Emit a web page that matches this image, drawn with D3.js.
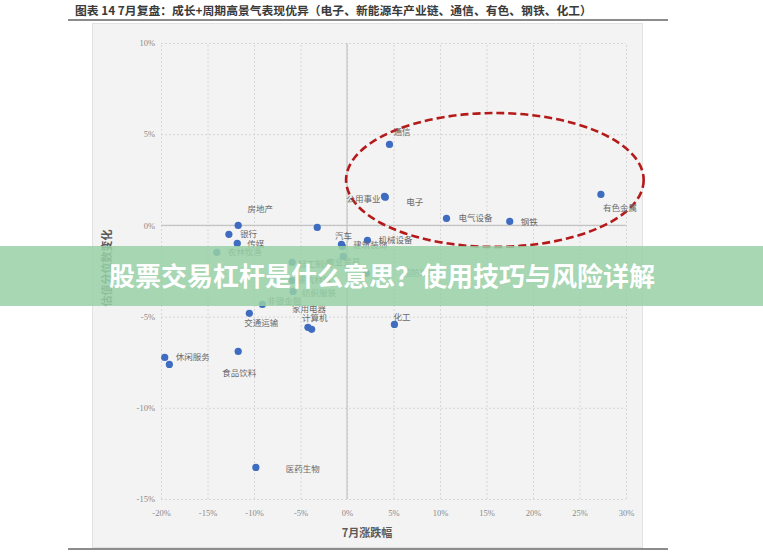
<!DOCTYPE html>
<html>

<head>
    <meta charset="UTF-8">
    <title>7月复盘</title>
    <script src="https://d3js.org/d3.v7.min.js"></script>
    <style>
        body {
            margin: 0;
            background-color: #ffffff;
        }
        svg {
            display: block;
        }
    </style>
</head>

<body>
    <div id="chart"></div>
    <script>
        // data: July change (%) vs change in valuation percentile (%)
        var sectors = ['通信', '公用事业', '电子', '电气设备', '钢铁', '有色金属', '房地产', '银行', '传媒', '农林牧渔',
            '采掘', '汽车', '建筑装饰', '机械设备', '商业贸易', '轻工制造', '国防军工', '建筑材料', '纺织服装', '非银金融',
            '交通运输', '家用电器', '计算机', '化工', '休闲服务', '综合', '食品饮料', '医药生物'];
        var julyChange = [4.57, 4.03, 4.12, 10.7, 17.5, 27.3, -11.7, -12.7, -11.8, -14.0,
            -3.2, -0.6, -0.5, 2.2, -0.4, -5.9, 2.1, -5.9, -5.8, -9.1,
            -10.5, -4.2, -3.8, 5.1, -19.6, -19.1, -11.7, -9.8];
        var valuationChange = [4.44, 1.59, 1.55, 0.38, 0.22, 1.70, 0.0, -0.49, -0.99, -1.48,
            -0.11, -1.04, -1.15, -0.82, -1.70, -2.03, -2.63, -3.02, -3.62, -4.33,
            -4.82, -5.59, -5.70, -5.43, -7.24, -7.62, -6.91, -13.27];
        var xTicks = [-20, -15, -10, -5, 0, 5, 10, 15, 20, 25, 30];
        var yTicks = [-15, -10, -5, 0, 5, 10];

        var title = '图表 14 7月复盘：成长+周期高景气表现优异（电子、新能源车产业链、通信、有色、钢铁、化工）';
        var xTitle = '7月涨跌幅';
        var yTitle = '估值分位数变化';
        var banner = '股票交易杠杆是什么意思？使用技巧与风险详解';

        // where each label sits next to its dot: dx, dy, anchor
        var labelPos = {
            '通信': [4, -12, 'start'], '公用事业': [-4, 3, 'end'], '电子': [21, 5, 'start'],
            '电气设备': [12, 0, 'start'], '钢铁': [11, 1, 'start'], '有色金属': [2, 14, 'start'],
            '房地产': [22, -16, 'middle'], '银行': [11, 0, 'start'], '传媒': [10, 1, 'start'],
            '农林牧渔': [11, 0, 'start'], '汽车': [2, -8, 'middle'], '建筑装饰': [11, -1, 'start'],
            '机械设备': [11, 0, 'start'], '商业贸易': [-17, 6, 'start'], '轻工制造': [6, 2, 'start'],
            '国防军工': [36, 0, 'start'], '建筑材料': [5, 0, 'start'], '纺织服装': [9, 2, 'start'],
            '非银金融': [5, -3, 'start'], '交通运输': [-5, 10, 'start'], '家用电器': [1, -18, 'middle'],
            '计算机': [3, -11, 'middle'], '化工': [-1, -7, 'start'], '休闲服务': [11, 0, 'start'],
            '食品饮料': [1, 22, 'middle'], '医药生物': [30, 2, 'start']
        };

        var width = 763;
        var height = 552;
        var plot = { left: 161, right: 626, top: 43, bottom: 499 };

        var svg = d3.select('#chart')
            .append('svg')
            .attr('width', width)
            .attr('height', height);

        // panel and frame lines
        svg.append('rect')
            .attr('x', 92.5).attr('y', 23.5)
            .attr('width', 550).attr('height', 524)
            .attr('fill', '#f3f3f3')
            .attr('stroke', '#e2e2e2');

        svg.append('line')
            .attr('x1', 68).attr('x2', 668).attr('y1', 20).attr('y2', 20)
            .attr('stroke', '#8c8c8c').attr('stroke-width', 2);
        svg.append('line')
            .attr('x1', 68).attr('x2', 668).attr('y1', 549).attr('y2', 549)
            .attr('stroke', '#8c8c8c').attr('stroke-width', 2);

        svg.append('text')
            .attr('x', 75).attr('y', 15)
            .attr('font-family', '"Noto Sans CJK SC", sans-serif')
            .attr('font-size', 11.8)
            .attr('font-weight', 'bold')
            .attr('fill', '#3a3a3a')
            .text(title);

        var x = d3.scaleLinear().domain([-20, 30]).range([plot.left, plot.right]);
        var y = d3.scaleLinear().domain([-15, 10]).range([plot.bottom, plot.top]);

        // grid
        var gridX = svg.append('g')
            .attr('transform', 'translate(0,' + plot.bottom + ')')
            .call(d3.axisBottom(x).tickValues(xTicks).tickSize(-(plot.bottom - plot.top)).tickFormat(''));
        var gridY = svg.append('g')
            .attr('transform', 'translate(' + plot.left + ',0)')
            .call(d3.axisLeft(y).tickValues(yTicks).tickSize(-(plot.right - plot.left)).tickFormat(''));
        [gridX, gridY].forEach(function(g) {
            g.select('.domain').remove();
            g.selectAll('line')
                .attr('stroke', '#d6d6d6')
                .attr('stroke-dasharray', '2,2');
        });

        // zero lines
        svg.append('line')
            .attr('x1', x(0)).attr('x2', x(0))
            .attr('y1', plot.top).attr('y2', plot.bottom)
            .attr('stroke', '#c4c4c4').attr('stroke-width', 1.2);
        svg.append('line')
            .attr('x1', plot.left).attr('x2', plot.right)
            .attr('y1', y(0)).attr('y2', y(0))
            .attr('stroke', '#c4c4c4').attr('stroke-width', 1.2);

        // tick labels
        var xAxis = svg.append('g')
            .attr('transform', 'translate(0,' + (plot.bottom + 8) + ')')
            .call(d3.axisBottom(x).tickValues(xTicks).tickSize(0).tickFormat(function(d) { return d + '%'; }));
        var yAxis = svg.append('g')
            .attr('transform', 'translate(' + (plot.left - 6) + ',0)')
            .call(d3.axisLeft(y).tickValues(yTicks).tickSize(0).tickFormat(function(d) { return d + '%'; }));
        [xAxis, yAxis].forEach(function(g) {
            g.select('.domain').remove();
            g.selectAll('text')
                .attr('font-family', '"Liberation Serif", serif')
                .attr('font-size', 8.5)
                .attr('fill', '#8a8a8a');
        });
        yAxis.selectAll('text').attr('x', 0);

        // axis titles
        svg.append('text')
            .attr('x', 367).attr('y', 537)
            .attr('text-anchor', 'middle')
            .attr('font-family', '"Noto Sans CJK SC", sans-serif')
            .attr('font-size', 11)
            .attr('font-weight', 'bold')
            .attr('fill', '#595959')
            .text(xTitle);
        svg.append('text')
            .attr('transform', 'translate(111,268) rotate(-90)')
            .attr('text-anchor', 'middle')
            .attr('font-family', '"Noto Sans CJK SC", sans-serif')
            .attr('font-size', 11)
            .attr('font-weight', 'bold')
            .attr('fill', '#595959')
            .text(yTitle);

        // highlight ellipse
        svg.append('ellipse')
            .attr('cx', x(15.9)).attr('cy', y(2.49))
            .attr('rx', x(16.0) - x(0)).attr('ry', y(0) - y(3.67))
            .attr('fill', 'none')
            .attr('stroke', '#b51a1a')
            .attr('stroke-width', 2.6)
            .attr('stroke-dasharray', '8,4');

        var points = sectors.map(function(s, i) {
            return { name: s, x: julyChange[i], y: valuationChange[i] };
        });

        svg.append('g').selectAll('circle')
            .data(points)
            .enter()
            .append('circle')
            .attr('cx', function(d) { return x(d.x); })
            .attr('cy', function(d) { return y(d.y); })
            .attr('r', 3.6)
            .attr('fill', '#3d6cc0');

        svg.append('g').selectAll('text')
            .data(points.filter(function(d) { return labelPos[d.name]; }))
            .enter()
            .append('text')
            .attr('x', function(d) { return x(d.x) + labelPos[d.name][0]; })
            .attr('y', function(d) { return y(d.y) + labelPos[d.name][1]; })
            .attr('dy', '0.35em')
            .attr('text-anchor', function(d) { return labelPos[d.name][2]; })
            .attr('font-family', '"Noto Sans CJK SC", sans-serif')
            .attr('font-size', 8.5)
            .attr('fill', '#6a6a6a')
            .text(function(d) { return d.name; });

        // overlay banner
        svg.append('rect')
            .attr('x', 0).attr('y', 246)
            .attr('width', width).attr('height', 60)
            .attr('fill', 'rgba(152, 208, 166, 0.85)');
        svg.append('text')
            .attr('x', 382).attr('y', 277)
            .attr('dy', '0.35em')
            .attr('text-anchor', 'middle')
            .attr('font-family', '"Noto Sans CJK SC", sans-serif')
            .attr('font-size', 26)
            .attr('font-weight', 'bold')
            .attr('fill', '#ffffff')
            .text(banner);
    </script>
</body>

</html>
